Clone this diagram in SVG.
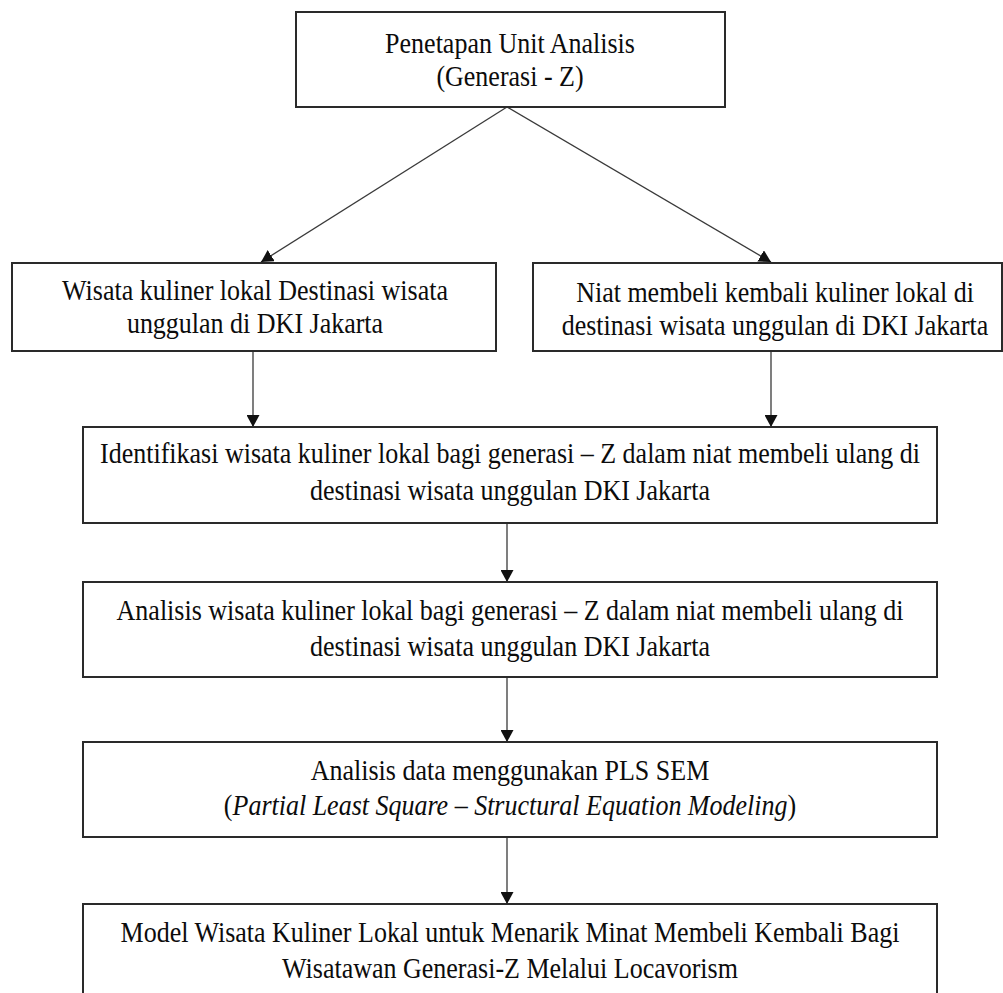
<svg xmlns="http://www.w3.org/2000/svg" width="1003" height="993" viewBox="0 0 1003 993">
  <style>
    .box { fill: #ffffff; stroke: #2a2a2a; stroke-width: 2; }
    .lbl { font-family: "Liberation Serif", "Times New Roman", serif; font-size: 26px; fill: #0c0c0c; text-anchor: middle; }
    .it { font-style: italic; }
    .link { fill: none; stroke: #3a3a3a; stroke-width: 1.3; }
  </style>
  <defs>
    <marker id="head" viewBox="0 0 12 13" refX="12" refY="6.5" markerWidth="12" markerHeight="13" markerUnits="userSpaceOnUse" orient="auto">
      <path d="M0,0 L12,6.5 L0,13 Z" fill="#111"/>
    </marker>
  </defs>
  <rect width="1003" height="993" fill="#ffffff"/>

  <!-- connectors -->
  <g id="connectors">
    <line class="link" x1="507" y1="107" x2="261" y2="262" marker-end="url(#head)"/>
    <line class="link" x1="507" y1="107" x2="771" y2="262" marker-end="url(#head)"/>
    <line class="link" x1="253" y1="351" x2="253" y2="427" marker-end="url(#head)"/>
    <line class="link" x1="771" y1="351" x2="771" y2="427" marker-end="url(#head)"/>
    <line class="link" x1="507" y1="523" x2="507" y2="582" marker-end="url(#head)"/>
    <line class="link" x1="507" y1="677" x2="507" y2="742" marker-end="url(#head)"/>
    <line class="link" x1="507" y1="837" x2="507" y2="904" marker-end="url(#head)"/>
  </g>

  <g id="unit-analisis">
    <rect class="box" x="296" y="12" width="429" height="95"/>
    <text class="lbl" transform="translate(510,53) scale(1,1.13)">Penetapan Unit Analisis</text>
    <text class="lbl" transform="translate(510,86) scale(1,1.13)">(Generasi - Z)</text>
  </g>

  <g id="wisata-kuliner">
    <rect class="box" x="12" y="263" width="484" height="88"/>
    <text class="lbl" transform="translate(255,300) scale(1,1.13)">Wisata kuliner lokal Destinasi wisata</text>
    <text class="lbl" transform="translate(255,333) scale(1,1.13)">unggulan di DKI Jakarta</text>
  </g>

  <g id="niat-membeli">
    <rect class="box" x="533" y="263" width="469" height="88"/>
    <text class="lbl" transform="translate(775,302) scale(1,1.13)">Niat membeli kembali kuliner lokal di</text>
    <text class="lbl" transform="translate(775,335) scale(1,1.13)">destinasi wisata unggulan di DKI Jakarta</text>
  </g>

  <g id="identifikasi">
    <rect class="box" x="83" y="427" width="854" height="96"/>
    <text class="lbl" transform="translate(510,463) scale(1,1.13)">Identifikasi wisata kuliner lokal bagi generasi – Z dalam niat membeli ulang di</text>
    <text class="lbl" transform="translate(510,500) scale(1,1.13)">destinasi wisata unggulan DKI Jakarta</text>
  </g>

  <g id="analisis">
    <rect class="box" x="83" y="582" width="854" height="95"/>
    <text class="lbl" transform="translate(510,620) scale(1,1.13)">Analisis wisata kuliner lokal bagi generasi – Z dalam niat membeli ulang di</text>
    <text class="lbl" transform="translate(510,656) scale(1,1.13)">destinasi wisata unggulan DKI Jakarta</text>
  </g>

  <g id="pls-sem">
    <rect class="box" x="83" y="742" width="854" height="95"/>
    <text class="lbl" transform="translate(510,780) scale(1,1.13)">Analisis data menggunakan PLS SEM</text>
    <text class="lbl" transform="translate(510,815) scale(1,1.13)">(<tspan class="it">Partial Least Square – Structural Equation Modeling</tspan>)</text>
  </g>

  <g id="model">
    <rect class="box" x="83" y="904" width="854" height="110"/>
    <text class="lbl" transform="translate(510,942) scale(1,1.13)">Model Wisata Kuliner Lokal untuk Menarik Minat Membeli Kembali Bagi</text>
    <text class="lbl" transform="translate(510,978) scale(1,1.13)">Wisatawan Generasi-Z Melalui Locavorism</text>
  </g>
</svg>
